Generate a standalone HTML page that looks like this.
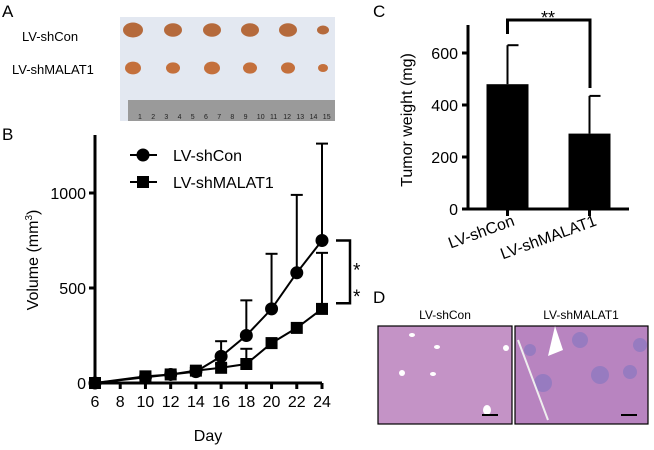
<!DOCTYPE html>
<html><head><meta charset="utf-8"><style>
body{margin:0;background:#fff;}
svg{display:block;font-family:"Liberation Sans",Arial,sans-serif;}
</style></head><body>
<svg id="fig" width="654" height="450" viewBox="0 0 654 450">
<!-- Panel A -->
<g>
<text x="2" y="17" font-size="17">A</text>
<text x="22" y="41" font-size="13">LV-shCon</text>
<text x="12" y="74" font-size="13">LV-shMALAT1</text>
<rect x="120" y="17" width="215" height="104" fill="#e3e8f1"/>
<rect x="128" y="100" width="207" height="21" fill="#9a9a9a"/>
<g id="tumors"></g>
<g id="rulerNums" font-size="7" fill="#222"></g>
</g>
<!-- Panel B -->
<g>
<text x="2" y="140" font-size="17">B</text>
<g id="chartB"></g>
</g>
<!-- Panel C -->
<g>
<text x="373" y="17" font-size="17">C</text>
<g id="chartC"></g>
</g>
<!-- Panel D -->
<g>
<text x="373" y="303" font-size="17">D</text>
<text x="445" y="319" font-size="12" text-anchor="middle">LV-shCon</text>
<text x="581" y="319" font-size="12" text-anchor="middle">LV-shMALAT1</text>
<rect x="378" y="326" width="134" height="98" fill="#c493c6" stroke="#000" stroke-width="1.2"/>
<rect x="515" y="326" width="133" height="98" fill="#b884c0" stroke="#000" stroke-width="1.2"/>
<g fill="#fff"><ellipse cx="412" cy="335" rx="3" ry="2"/><ellipse cx="437" cy="347" rx="3" ry="2"/><ellipse cx="506" cy="348" rx="3" ry="3"/><ellipse cx="402" cy="373" rx="3" ry="3"/><ellipse cx="433" cy="374" rx="3" ry="2"/><ellipse cx="487" cy="410" rx="4" ry="5"/></g>
<g fill="#8a78c0" opacity="0.7"><circle cx="580" cy="340" r="8"/><circle cx="600" cy="375" r="9"/><circle cx="543" cy="383" r="9"/><circle cx="630" cy="372" r="7"/><circle cx="640" cy="345" r="7"/><circle cx="530" cy="350" r="6"/></g>
<path d="M555 326 L563 350 L548 356 Z" fill="#fff"/>
<line x1="518" y1="340" x2="548" y2="420" stroke="#eee" stroke-width="2"/>
<line x1="482" y1="415" x2="498" y2="415" stroke="#000" stroke-width="2"/>
<line x1="621" y1="415" x2="637" y2="415" stroke="#000" stroke-width="2"/>
</g>
</svg>
<script>
const NS="http://www.w3.org/2000/svg";
function mk(p,t,a){const e=document.createElementNS(NS,t);for(const k in a)e.setAttribute(k,a[k]);p.appendChild(e);return e;}
// Panel A decor
const tg=document.getElementById('tumors');
const tumorX=[133,173,212,250,288,323];
const tumorR1=[10,9,9,9,9,6];
const tumorR2=[8,7,8,7,7,5];
tumorX.forEach((x,i)=>{
 const a=mk(tg,'ellipse',{cx:x,cy:30,rx:tumorR1[i],ry:tumorR1[i]*0.75,fill:'#b56a3c'});
 
 const b=mk(tg,'ellipse',{cx:x,cy:68,rx:tumorR2[i],ry:tumorR2[i]*0.8,fill:'#c4703c'});
 
});
const rn=document.getElementById('rulerNums');
for(let i=1;i<=15;i++){const t=mk(rn,'text',{x:138+(i-1)*13.2,y:119});t.textContent=i;}

// Panel B chart
const days=[6,10,12,14,16,18,20,22,24];
const shConVol=[0,30,45,60,140,250,390,580,750];
const shConErr=[0,10,15,20,80,185,290,410,510];
const shMalVol=[0,35,45,65,80,100,210,290,390];
const shMalErr=[0,10,10,15,20,80,0,0,295];
const xTicksB=[6,8,10,12,14,16,18,20,22,24];
const yTicksB=[0,500,1000];
(function(){
 const g=document.getElementById('chartB');
 const X=d=>95+(d-6)*(227/18), Y=v=>383-v*0.19;
 const ax=mk(g,'path',{d:`M95 135 V383 H${X(24)}`,fill:'none',stroke:'#000','stroke-width':3});
 
 xTicksB.forEach(d=>{mk(g,'line',{x1:X(d),x2:X(d),y1:383,y2:389,stroke:'#000','stroke-width':3});
  const t=mk(g,'text',{x:X(d),y:407,'font-size':16,'text-anchor':'middle'});t.textContent=d;
  });
 yTicksB.forEach(v=>{mk(g,'line',{x1:89,x2:95,y1:Y(v),y2:Y(v),stroke:'#000','stroke-width':3});
  const t=mk(g,'text',{x:86,y:Y(v)+6,'font-size':16,'text-anchor':'end'});t.textContent=v;
  });
 const xt=mk(g,'text',{x:208,y:441,'font-size':16,'text-anchor':'middle'});xt.textContent='Day';
 
 const yt=mk(g,'text',{x:0,y:0,'font-size':16,'text-anchor':'middle',transform:'translate(38,260) rotate(-90)'});
 yt.innerHTML='Volume (mm<tspan dy="-6" font-size="10">3</tspan><tspan dy="6">)</tspan>';
 
 function series(vals,errs,sq,name){
  const sg=mk(g,'g',{});
  days.forEach((d,i)=>{if(errs[i]>0){mk(sg,'line',{x1:X(d),x2:X(d),y1:Y(vals[i]),y2:Y(vals[i]+errs[i]),stroke:'#000','stroke-width':2});
   mk(sg,'line',{x1:X(d)-6,x2:X(d)+6,y1:Y(vals[i]+errs[i]),y2:Y(vals[i]+errs[i]),stroke:'#000','stroke-width':2});}});
  mk(sg,'polyline',{points:days.map((d,i)=>X(d)+','+Y(vals[i])).join(' '),fill:'none',stroke:'#000','stroke-width':2});
  days.forEach((d,i)=>{const m=sq?mk(sg,'rect',{x:X(d)-6,y:Y(vals[i])-6,width:12,height:12}):mk(sg,'circle',{cx:X(d),cy:Y(vals[i]),r:6.5});
   });
 }
 series(shMalVol,shMalErr,true,'series-shmalat1');
 series(shConVol,shConErr,false,'series-shcon');
 // legend
 const lg=mk(g,'g',{});
 mk(lg,'line',{x1:130,x2:157,y1:155,y2:155,stroke:'#000','stroke-width':2});mk(lg,'circle',{cx:143,cy:155,r:6.5});
 let t=mk(lg,'text',{x:173,y:161,'font-size':16});t.textContent='LV-shCon';
 mk(lg,'line',{x1:130,x2:157,y1:182,y2:182,stroke:'#000','stroke-width':2});mk(lg,'rect',{x:137,y:176,width:12,height:12});
 t=mk(lg,'text',{x:173,y:188,'font-size':16});t.textContent='LV-shMALAT1';
 const br=mk(g,'path',{d:`M336 ${Y(750)} H350 V${Y(420)} H336`,fill:'none',stroke:'#000','stroke-width':2.5});
 
 t=mk(g,'text',{x:353,y:Y(560),'font-size':19});t.textContent='*';
 t=mk(g,'text',{x:353,y:Y(420),'font-size':19});t.textContent='*';
})();

// Panel C chart
const groups=['LV-shCon','LV-shMALAT1'];
const weights=[480,290];
const weightErr=[150,145];
const yTicksC=[0,200,400,600];
(function(){
 const g=document.getElementById('chartC');
 const Y=v=>209-v*0.26; const cx=[507.5,589.5]; const bw=42;
 weights.forEach((w,i)=>{
  mk(g,'line',{x1:cx[i],x2:cx[i],y1:Y(w),y2:Y(w+weightErr[i]),stroke:'#000','stroke-width':2});
  mk(g,'line',{x1:cx[i],x2:cx[i]+11,y1:Y(w+weightErr[i]),y2:Y(w+weightErr[i]),stroke:'#000','stroke-width':2});
  const b=mk(g,'rect',{x:cx[i]-bw/2,y:Y(w),width:bw,height:Y(0)-Y(w),fill:'#000'});
  
  mk(g,'line',{x1:cx[i],x2:cx[i],y1:209,y2:216,stroke:'#000','stroke-width':3});
  const t=mk(g,'text',{x:0,y:0,'font-size':16,'text-anchor':'end',transform:`translate(${cx[i]+8},225) rotate(-20)`});
  t.textContent=groups[i];
 });
 const ax=mk(g,'path',{d:'M468 25 V209 H629',fill:'none',stroke:'#000','stroke-width':3});
 
 yTicksC.forEach(v=>{mk(g,'line',{x1:462,x2:468,y1:Y(v),y2:Y(v),stroke:'#000','stroke-width':3});
  const t=mk(g,'text',{x:458,y:Y(v)+6,'font-size':16,'text-anchor':'end'});t.textContent=v;
  });
 const yt=mk(g,'text',{x:0,y:0,'font-size':16,'text-anchor':'middle',transform:'translate(412,120) rotate(-90)'});
 yt.textContent='Tumor weight (mg)';
 const br=mk(g,'path',{d:'M507.5 34 V20 H590 V88',fill:'none',stroke:'#000','stroke-width':3});
 
 const s=mk(g,'text',{x:548,y:24,'font-size':18,'text-anchor':'middle'});s.textContent='**';
})();
</script>
</body></html>
